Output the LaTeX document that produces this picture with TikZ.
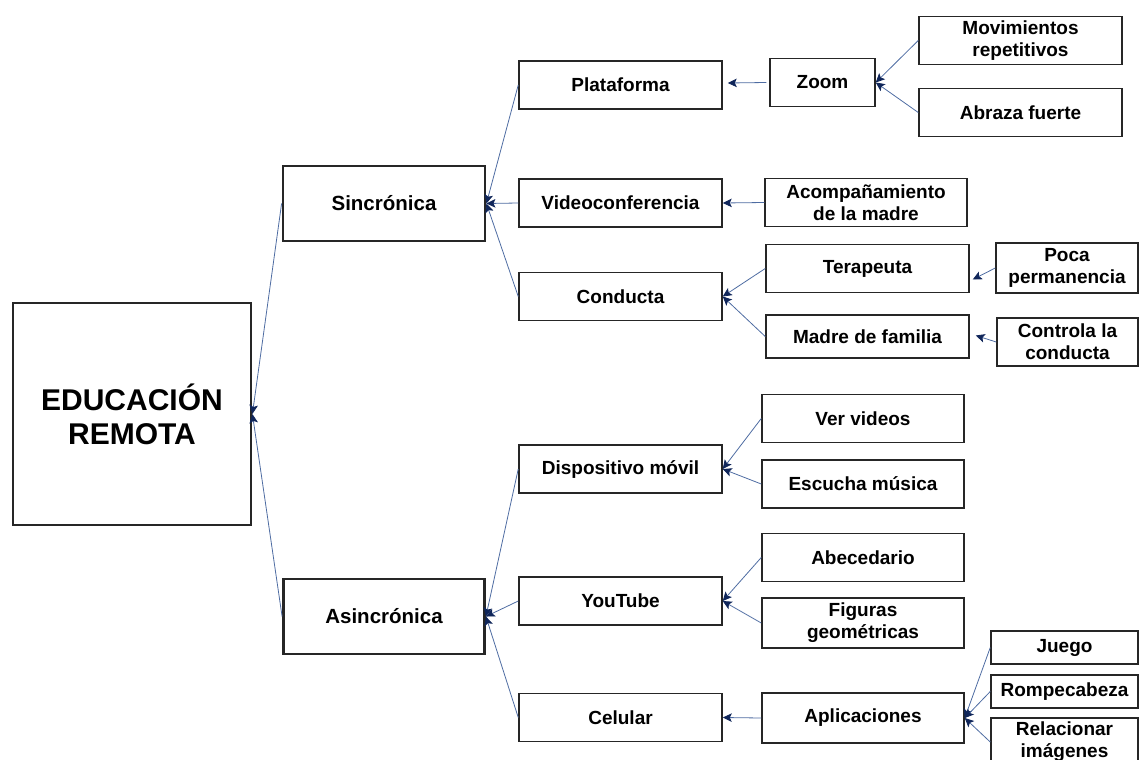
\documentclass[tikz,border=0pt]{standalone}
\usepackage{fontspec}
\setmainfont{Liberation Sans}
\usetikzlibrary{arrows.meta,%
		positioning}
\definecolor{linea}{RGB}{78,108,162}
\definecolor{punta}{RGB}{16,38,90}

\begin{document}
\begin{tikzpicture}[x=1pt,y=-1pt,
	caja/.style={draw=black!85,line width=1.5pt,inner sep=0pt,align=center,%
		font=\fontsize{19}{22}\selectfont\bfseries,minimum width=203pt,minimum height=48pt},
	cajagruesa/.style={caja,line width=2.8pt},
	flecha/.style={draw=linea,line width=0.8pt,-{Stealth[length=9pt,width=8.5pt,inset=2pt,color=punta]}}]
\useasboundingbox (0,0) rectangle (1140,760);

%la raiz
\node[cajagruesa,minimum width=238pt,minimum height=222pt,font=\fontsize{30}{34}\selectfont\bfseries] (edu) at (132,414) {EDUCACIÓN\\REMOTA};
\node[cajagruesa,minimum width=202pt,minimum height=75pt,font=\fontsize{20.5}{24}\selectfont\bfseries] (sinc) at (384,203.5) {Sincrónica};
\node[cajagruesa,minimum width=201pt,minimum height=75pt,font=\fontsize{20.5}{24}\selectfont\bfseries] (asinc) at (384,616.5) {Asincrónica};
\draw[flecha] (sinc.west) -- (edu.east);
\draw[flecha] (asinc.west) -- (edu.east);

%sincronica
\node[caja] (plat) at (620.5,85) {Plataforma};
\node[caja] (video) at (620.5,203) {Videoconferencia};
\node[caja] (cond) at (620.5,296.5) {Conducta};
\node[caja,minimum width=105pt] (zoom) at (822.5,82.5) {Zoom};
\node[caja,minimum width=202pt] (acomp) at (866,202.5) {Acompañamiento\\de la madre};
\node[caja] (terap) at (867.5,268.5) {Terapeuta};
\node[caja,minimum height=43pt] (madre) at (867.5,336.5) {Madre de familia};
\node[caja] (movim) at (1020.5,40.5) {Movimientos\\repetitivos};
\node[caja] (abraza) at (1020.5,112.5) {Abraza fuerte};
\node[caja,minimum width=142pt,minimum height=50pt] (poca) at (1067,268) {Poca\\permanencia};
\node[caja,minimum width=141pt] (controla) at (1067.5,342) {Controla la\\conducta};

\draw[flecha] (plat.west) -- (sinc.east);
\draw[flecha] (video.west) -- (sinc.east);
\draw[flecha] (cond.west) -- (sinc.east);
\draw[flecha] ([xshift=-3pt]zoom.west) -- ([xshift=5pt,yshift=2pt]plat.east);
\draw[flecha] (acomp.west) -- (video.east);
\draw[flecha] (terap.west) -- (cond.east);
\draw[flecha] (madre.west) -- (cond.east);
\draw[flecha] (movim.west) -- (zoom.east);
\draw[flecha] (abraza.west) -- (zoom.east);
\draw[flecha] (poca.west) -- ([xshift=3pt,yshift=-11pt]terap.east);
\draw[flecha] (controla.west) -- ([xshift=6pt,yshift=1pt]madre.east);

%asincronica
\node[caja] (disp) at (620.5,469) {Dispositivo móvil};
\node[caja] (yt) at (620.5,601) {YouTube};
\node[caja] (cel) at (620.5,717.5) {Celular};
\node[caja,minimum width=202pt] (ver) at (863,418.5) {Ver videos};
\node[caja,minimum width=202pt] (escucha) at (863,484) {Escucha música};
\node[caja,minimum width=202pt] (abec) at (863,557.5) {Abecedario};
\node[caja,minimum width=202pt,minimum height=50pt] (fig) at (863,623) {Figuras\\geométricas};
\node[caja,minimum width=202pt,minimum height=50pt] (apl) at (863,718) {Aplicaciones};
\node[caja,minimum width=147pt,minimum height=33pt] (juego) at (1064.5,647.5) {Juego};
\node[caja,minimum width=147pt,minimum height=33pt] (rompe) at (1064.5,691.5) {Rompecabeza};
\node[caja,minimum width=147pt] (relac) at (1064.5,742) {Relacionar\\imágenes};

\draw[flecha] (disp.west) -- (asinc.east);
\draw[flecha] (yt.west) -- (asinc.east);
\draw[flecha] (cel.west) -- (asinc.east);
\draw[flecha] (ver.west) -- (disp.east);
\draw[flecha] (escucha.west) -- (disp.east);
\draw[flecha] (abec.west) -- (yt.east);
\draw[flecha] (fig.west) -- (yt.east);
\draw[flecha] (apl.west) -- (cel.east);
\draw[flecha] (juego.west) -- (apl.east);
\draw[flecha] (rompe.west) -- (apl.east);
\draw[flecha] (relac.west) -- (apl.east);

\end{tikzpicture}
\end{document}
